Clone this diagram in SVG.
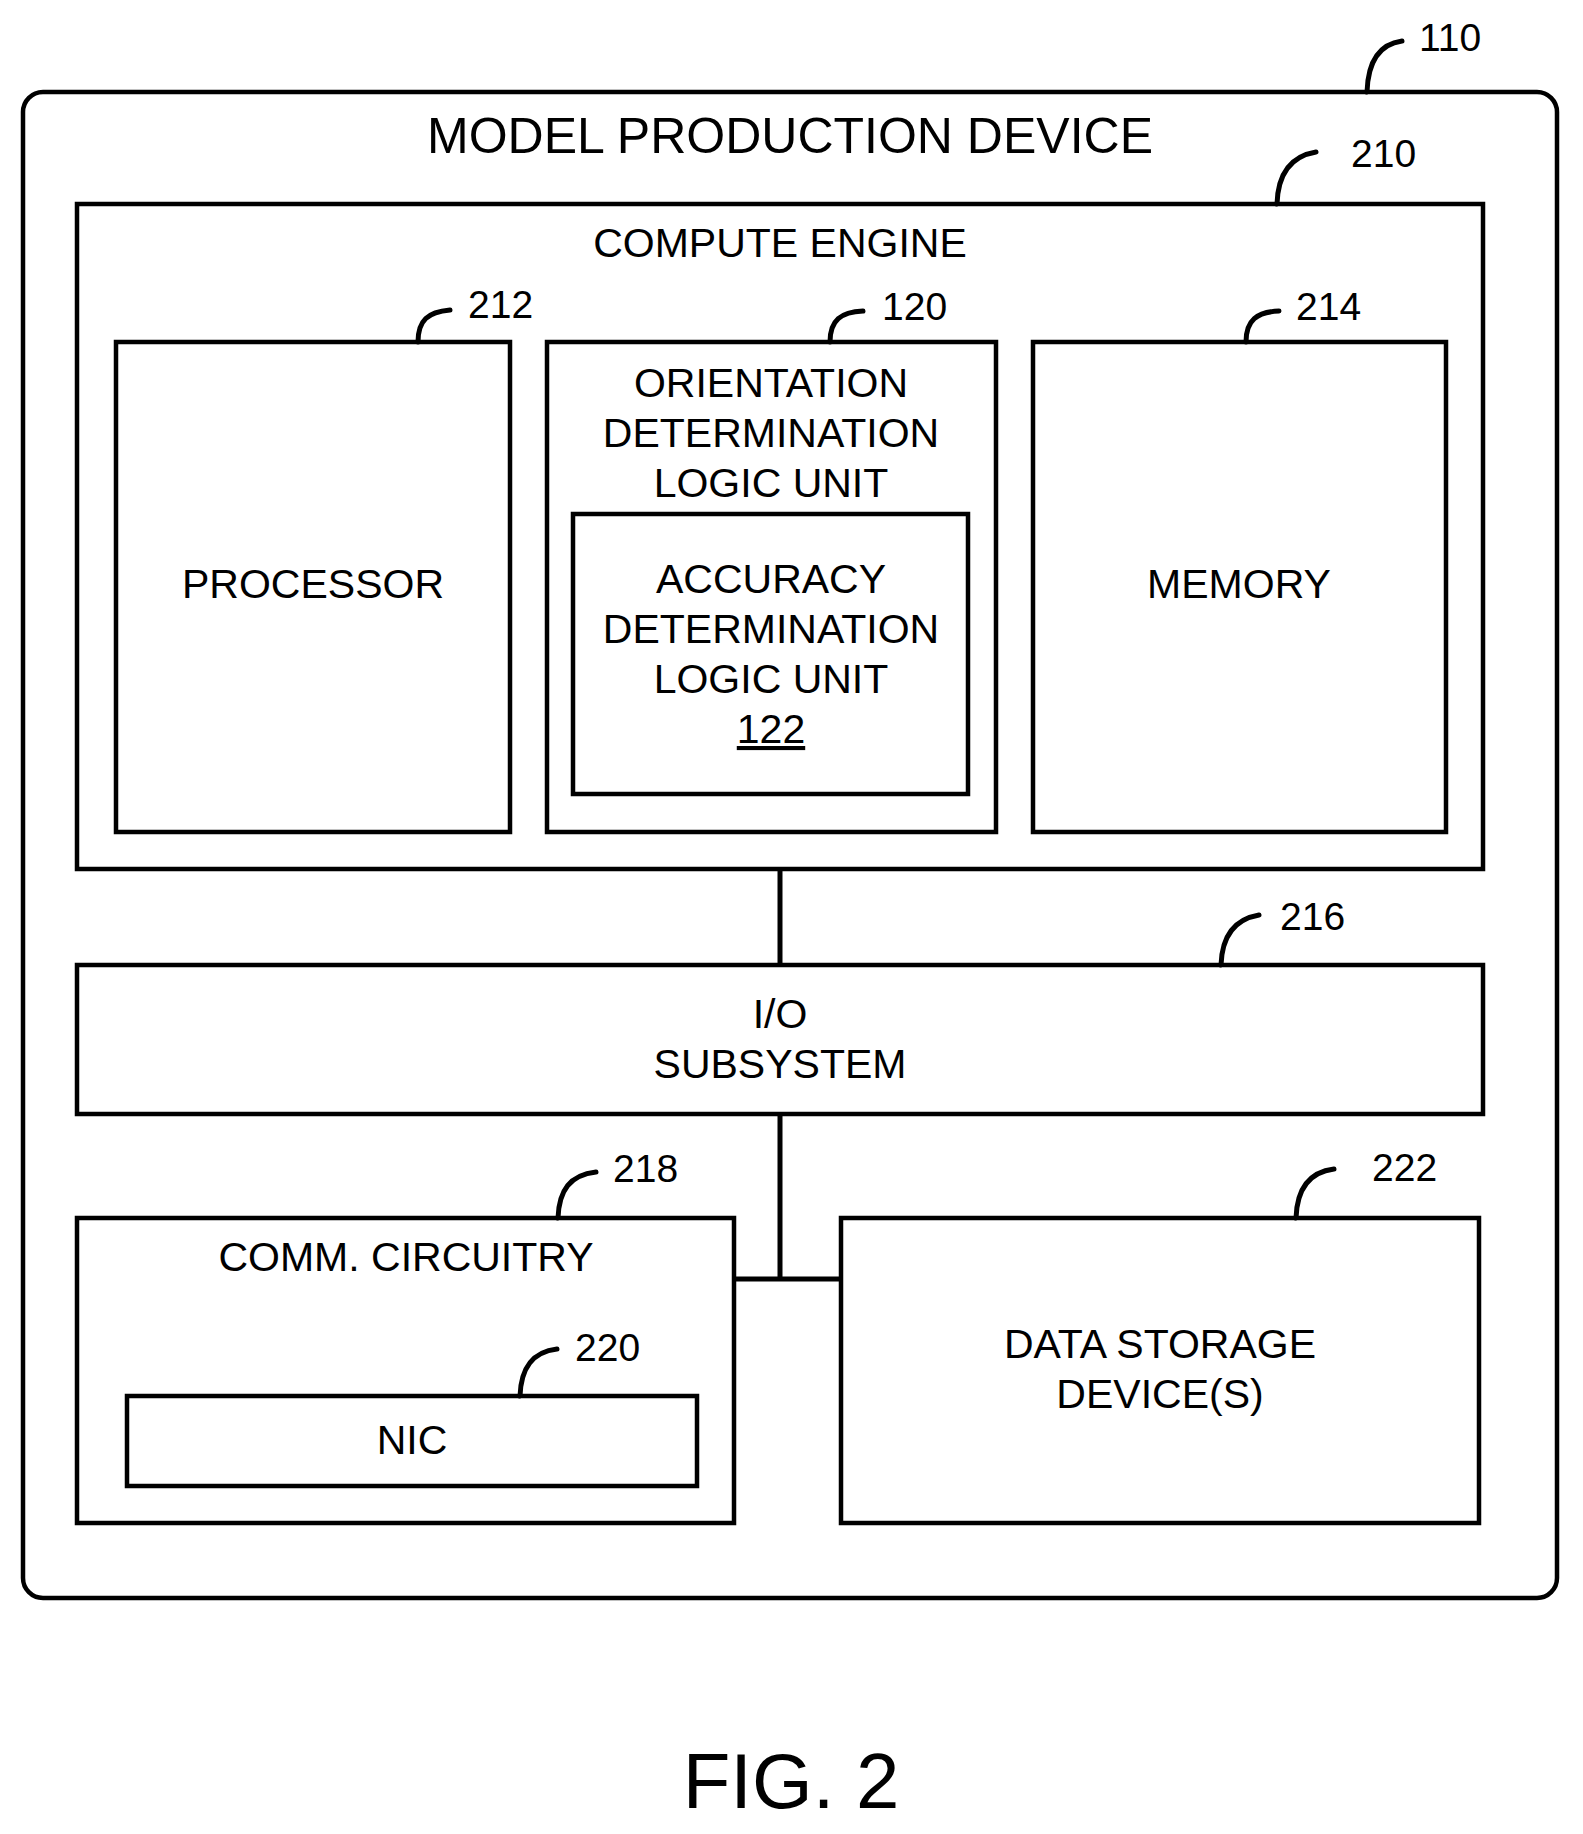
<svg xmlns="http://www.w3.org/2000/svg" width="1583" height="1834" viewBox="0 0 1583 1834">
<style>
.b{fill:none;stroke:#000;stroke-width:4.5}
.l{fill:none;stroke:#000;stroke-width:5;stroke-linecap:round}
text{font-family:"Liberation Sans",Arial,sans-serif;fill:#000}
.t{font-size:41px;text-anchor:middle}
.n{font-size:39px}
</style>
<rect width="1583" height="1834" fill="#fff"/>
<g id="device"><rect class="b" x="23" y="92" width="1534" height="1506" rx="20"/>
<text class="t" x="790" y="153" style="font-size:50px">MODEL PRODUCTION DEVICE</text>
<path class="l" d="M1367 92 C1368 60 1380 44 1402 41"/><text class="n" x="1419" y="51">110</text></g>
<g id="compute"><rect class="b" x="77" y="204" width="1406" height="665"/>
<text class="t" x="780" y="257">COMPUTE ENGINE</text>
<path class="l" d="M1277 204 C1278 172 1292 156 1316 152"/><text class="n" x="1351" y="167">210</text></g>
<g id="processor"><rect class="b" x="116" y="342" width="394" height="490"/>
<text class="t" x="313" y="598">PROCESSOR</text>
<path class="l" d="M418 342 C418 320 428 312 450 310"/><text class="n" x="468" y="318">212</text></g>
<g id="orientation"><rect class="b" x="547" y="342" width="449" height="490"/>
<text class="t" x="771" y="397">ORIENTATION</text><text class="t" x="771" y="447">DETERMINATION</text><text class="t" x="771" y="497">LOGIC UNIT</text>
<path class="l" d="M830 342 C830 320 841 312 863 311"/><text class="n" x="882" y="320">120</text></g>
<g id="accuracy"><rect class="b" x="573" y="514" width="395" height="280"/>
<text class="t" x="771" y="593">ACCURACY</text><text class="t" x="771" y="643">DETERMINATION</text><text class="t" x="771" y="693">LOGIC UNIT</text>
<text class="t" x="771" y="743" text-decoration="underline">122</text></g>
<g id="memory"><rect class="b" x="1033" y="342" width="413" height="490"/>
<text class="t" x="1239" y="598">MEMORY</text>
<path class="l" d="M1246 342 C1246 320 1257 312 1279 311"/><text class="n" x="1296" y="320">214</text></g>
<g id="io"><rect class="b" x="77" y="965" width="1406" height="149"/>
<text class="t" x="780" y="1028">I/O</text><text class="t" x="780" y="1078">SUBSYSTEM</text>
<path class="l" d="M1221 965 C1222 935 1236 919 1259 915"/><text class="n" x="1280" y="930">216</text></g>
<g id="comm"><rect class="b" x="77" y="1218" width="657" height="305"/>
<text class="t" x="406" y="1271">COMM. CIRCUITRY</text>
<path class="l" d="M558 1218 C559 1190 570 1175 596 1172"/><text class="n" x="613" y="1182">218</text></g>
<g id="nic"><rect class="b" x="127" y="1396" width="570" height="90"/>
<text class="t" x="412" y="1454">NIC</text>
<path class="l" d="M520 1396 C521 1368 532 1352 557 1349"/><text class="n" x="575" y="1361">220</text></g>
<g id="storage"><rect class="b" x="841" y="1218" width="638" height="305"/>
<text class="t" x="1160" y="1358">DATA STORAGE</text><text class="t" x="1160" y="1408">DEVICE(S)</text>
<path class="l" d="M1296 1218 C1297 1188 1310 1172 1334 1169"/><text class="n" x="1372" y="1181">222</text></g>
<g id="connectors" fill="none" stroke="#000" stroke-width="5">
<path d="M780 869 V965"/><path d="M780 1114 V1279"/><path d="M734 1279 H841"/></g>
<text x="791" y="1808" style="font-size:78px;text-anchor:middle">FIG. 2</text>
</svg>
